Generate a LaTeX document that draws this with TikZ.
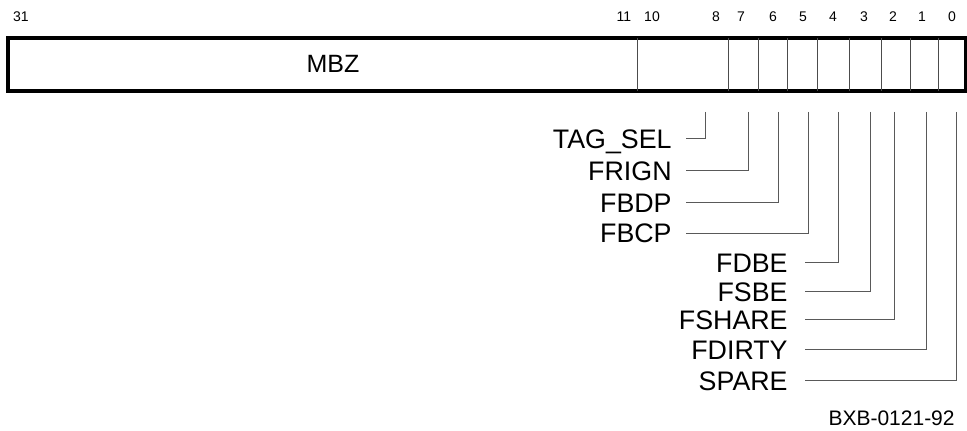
\documentclass[tikz,border=0pt]{standalone}
\usepackage{fontspec}
\setmainfont{Liberation Sans}
\usetikzlibrary{positioning}
\tikzset{
  bitnum/.style={font=\fontsize{7}{8}\selectfont, inner sep=0pt},
  fieldname/.style={font=\fontsize{13.4}{15}\selectfont, inner sep=0pt, anchor=east, text height=9.5pt, text depth=0pt},
  leader/.style={black!65, line width=0.5pt},
  divider/.style={black!70, line width=0.5pt}
}

\begin{document}
\begin{tikzpicture}[x=0.5pt, y=-0.5pt]
\useasboundingbox (0,0) rectangle (967,431);

% --- Bit numbers ---
\foreach \x/\b in {21/31, 624/11, 652/10, 716/8, 741/7, 773/6, 803/5, 833/4, 864/3, 893/2, 922/1, 952/0}
  \node[bitnum] (bit\b) at (\x,17) {\b};

% --- Register box and field dividers ---
\draw[line width=2pt] (8,38.5) rectangle (966,91.5);
\foreach \x in {637, 728, 758, 787, 817, 849, 881, 910, 938}
  \draw[divider] (\x,38.5) -- (\x,91.5);

\node[font=\fontsize{12.5}{14}\selectfont, inner sep=0pt] (mbz) at (333,64) {MBZ};

% --- Leader start points below the box ---
\coordinate (t8) at (705,112);
\coordinate (t7) at (748,112);
\coordinate (t6) at (778,112);
\coordinate (t5) at (808,112);
\coordinate (t4) at (838,112);
\coordinate (t3) at (870,112);
\coordinate (t2) at (894,112);
\coordinate (t1) at (926,112);
\coordinate (t0) at (956,112);

% --- Field names ---
\node[fieldname] (tagsel) at (672,139) {TAG\_SEL};
\node[fieldname] (frign)  at (672,171) {FRIGN};
\node[fieldname] (fbdp)   at (672,203) {FBDP};
\node[fieldname] (fbcp)   at (672,233.5) {FBCP};
\node[fieldname] (fdbe)   at (788,263) {FDBE};
\node[fieldname] (fsbe)   at (788,292) {FSBE};
\node[fieldname] (fshare) at (788,320) {FSHARE};
\node[fieldname] (fdirty) at (788,350) {FDIRTY};
\node[fieldname] (spare)  at (788,381) {SPARE};

% --- Leaders ---
\draw[leader] (t8) |- ([xshift=7pt]tagsel.east);
\draw[leader] (t7) |- ([xshift=7pt]frign.east);
\draw[leader] (t6) |- ([xshift=7pt]fbdp.east);
\draw[leader] (t5) |- ([xshift=7pt]fbcp.east);
\draw[leader] (t4) |- ([xshift=8.5pt]fdbe.east);
\draw[leader] (t3) |- ([xshift=8.5pt]fsbe.east);
\draw[leader] (t2) |- ([xshift=8.5pt]fshare.east);
\draw[leader] (t1) |- ([xshift=8.5pt]fdirty.east);
\draw[leader] (t0) |- ([xshift=8.5pt]spare.east);

% --- Figure tag ---
\node[font=\fontsize{10.5}{12}\selectfont, inner sep=0pt, anchor=east] (figtag) at (955,418) {BXB-0121-92};

\end{tikzpicture}
\end{document}
